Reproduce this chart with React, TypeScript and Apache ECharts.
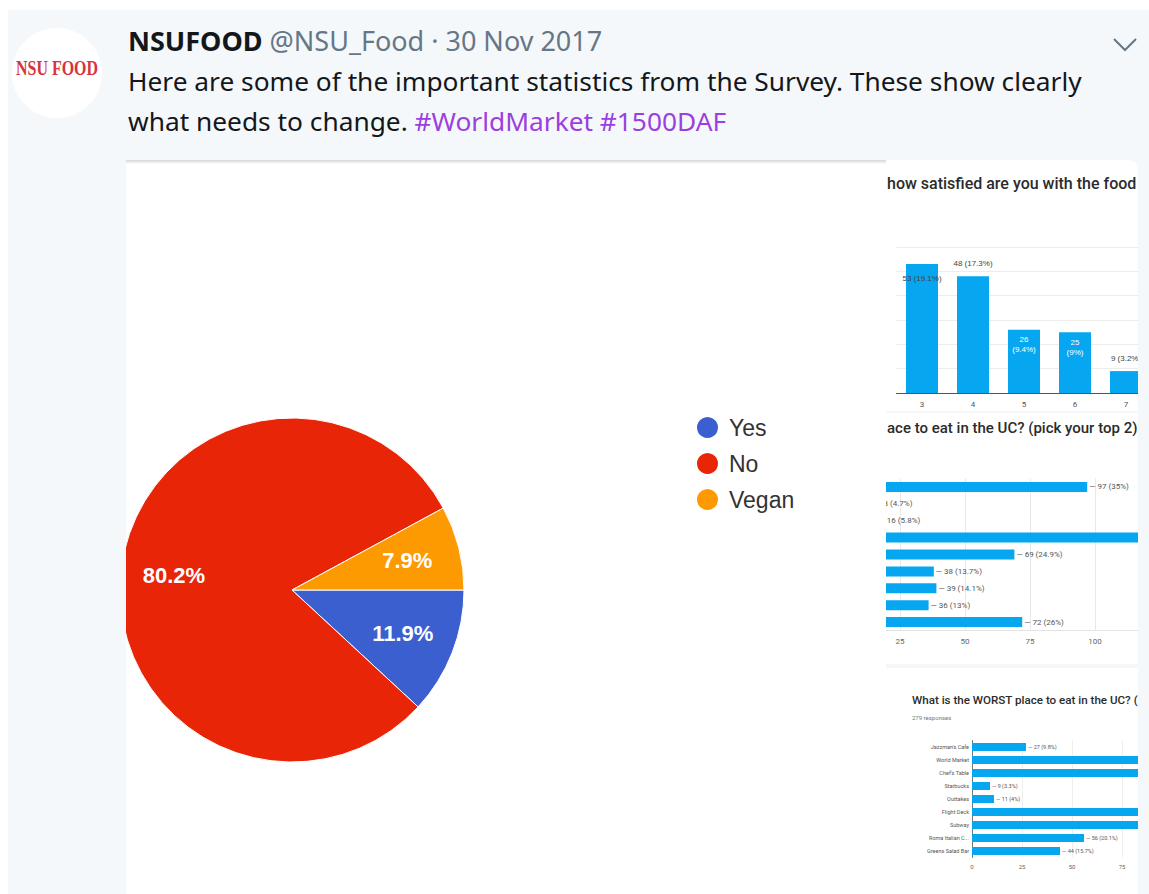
import React, { useEffect, useRef } from 'react';
import * as echarts from 'echarts';

// ---- data ----
const pieNames = ['Yes', 'No', 'Vegan'];
const pieValues = [11.9, 80.2, 7.9];
const pieColors = ['#3b5fcf', '#e82507', '#fd9a02'];

const satCategories = ['3', '4', '5', '6', '7'];
const satValues = [53, 48, 26, 25, 9];
const satPercents = ['19.1%', '17.3%', '9.4%', '9%', '3.2%'];

const places = ["Jazzman's Cafe", 'World Market', "Chef's Table", 'Starbucks', 'Outtakes', 'Flight Deck', 'Subway', 'Roma Italian C...', 'Greens Salad Bar'];
const bestValues = [97, 13, 16, 174, 69, 38, 39, 36, 72];
const bestPercents = ['35%', '4.7%', '5.8%', '62.8%', '24.9%', '13.7%', '14.1%', '13%', '26%'];
const worstValues = [27, 104, 98, 9, 11, 110, 101, 56, 44];
const worstPercents = ['9.8%', '37.3%', '35.1%', '3.3%', '4%', '39.4%', '36.2%', '20.1%', '15.7%'];

// bars whose ends (and labels) run past the cropped screenshot edge
const bestLabelHidden = [false, false, false, true, false, false, false, false, false];
const worstLabelHidden = [false, true, true, false, false, true, true, false, false];

const BG = '#f5f8fa';
const BAR = '#06a6f0';
const UI_FONT = "'Noto Sans', 'Liberation Sans', sans-serif";
const SMALL_FONT = 'Roboto, sans-serif';
const ARIAL = "'Liberation Sans', Arial, sans-serif";

export default function App() {
  const ref = useRef<HTMLDivElement>(null);
  useEffect(() => {
    if (!ref.current) return;
    const chart = echarts.init(ref.current, undefined, { renderer: 'svg' });

    const satLabel = (i: number) => {
      if (i === 2 || i === 3) {
        return { show: true, position: 'insideTop', distance: 5, color: '#ffffff', fontSize: 8, lineHeight: 10, formatter: `{c}\n(${satPercents[i]})` };
      }
      if (i === 0) {
        return { show: true, position: 'insideTop', distance: 10, color: '#444', fontSize: 8, formatter: `{c} (${satPercents[i]})` };
      }
      return { show: true, position: 'top', distance: 9, color: '#444', fontSize: 8, formatter: `{c} (${satPercents[i]})` };
    };

    const option: any = {
      animation: false,
      backgroundColor: '#ffffff',
      legend: {
        orient: 'vertical',
        left: 690,
        top: 410,
        icon: 'circle',
        itemWidth: 23,
        itemHeight: 23,
        itemGap: 11,
        textStyle: { fontSize: 23, color: '#333', fontFamily: ARIAL, padding: [0, 0, 0, 5] },
        data: pieNames.map((n, i) => ({ name: n, itemStyle: { color: pieColors[i] } })),
        selectedMode: false,
      },
      grid: [
        { left: 896.5, top: 247, width: 255, height: 146, outerBoundsMode: 'none', containLabel: false },
        { left: 835, top: 478.5, width: 325, height: 152, outerBoundsMode: 'none', containLabel: false },
        { left: 972, top: 740.5, width: 200, height: 117, outerBoundsMode: 'none', containLabel: false },
      ],
      xAxis: [
        {
          gridIndex: 0, type: 'category', data: satCategories,
          axisLine: { lineStyle: { color: '#555' } }, axisTick: { show: false },
          axisLabel: { fontSize: 8, color: '#555', margin: 7, fontFamily: SMALL_FONT },
        },
        {
          gridIndex: 1, type: 'value', min: 0, max: 125, interval: 25,
          axisLine: { show: true, lineStyle: { color: '#e3e3e3' } }, axisTick: { show: false },
          splitLine: { lineStyle: { color: '#e8e8e8' } },
          axisLabel: { fontSize: 8, color: '#666', margin: 7, fontFamily: SMALL_FONT, showMaxLabel: false },
        },
        {
          gridIndex: 2, type: 'value', min: 0, max: 100, interval: 25,
          axisLine: { show: false }, axisTick: { show: false },
          splitLine: { lineStyle: { color: '#eeeeee' } },
          axisLabel: { fontSize: 6, color: '#666', margin: 6, fontFamily: SMALL_FONT, showMaxLabel: false },
        },
      ],
      yAxis: [
        {
          gridIndex: 0, type: 'value', min: 0, max: 60, interval: 10,
          axisLabel: { show: false }, axisLine: { show: false }, axisTick: { show: false },
          splitLine: { lineStyle: { color: '#ececec' } },
        },
        {
          gridIndex: 1, type: 'category', data: places, inverse: true,
          axisLabel: { show: false }, axisTick: { show: false }, axisLine: { show: false },
        },
        {
          gridIndex: 2, type: 'category', data: places, inverse: true,
          axisLabel: { fontSize: 5.5, color: '#555', margin: 3, fontFamily: SMALL_FONT },
          axisTick: { show: false }, axisLine: { lineStyle: { color: '#777' } },
        },
      ],
      series: [
        {
          type: 'pie',
          center: [292, 590],
          radius: 172,
          startAngle: 0,
          clockwise: true,
          label: { show: false },
          labelLine: { show: false },
          itemStyle: { borderColor: '#ffffff', borderWidth: 1 },
          silent: true,
          data: pieNames.map((n, i) => ({ name: n, value: pieValues[i], itemStyle: { color: pieColors[i] } })),
        },
        {
          type: 'pie',
          center: [292, 590],
          radius: [60, 172],
          startAngle: 0,
          clockwise: true,
          silent: true,
          itemStyle: { color: 'rgba(0,0,0,0)' },
          label: {
            show: true, position: 'inside', color: '#ffffff', fontSize: 22, fontWeight: 'bold',
            fontFamily: ARIAL, formatter: '{c}%',
          },
          labelLine: { show: false },
          data: pieNames.map((n, i) => ({ name: n, value: pieValues[i] })),
        },
        {
          type: 'bar', xAxisIndex: 0, yAxisIndex: 0, barWidth: 32,
          itemStyle: { color: BAR },
          data: satValues.map((v, i) => ({ value: v, label: satLabel(i) })),
        },
        {
          type: 'bar', xAxisIndex: 1, yAxisIndex: 1, barWidth: 10,
          itemStyle: { color: BAR },
          label: {
            show: true, position: 'right', distance: 2, fontSize: 8, color: '#555', fontFamily: SMALL_FONT,
            formatter: (p: any) => `— ${p.value} (${bestPercents[p.dataIndex]})`,
          },
          data: bestValues.map((v, i) => (bestLabelHidden[i] ? { value: v, label: { show: false } } : v)),
        },
        {
          type: 'bar', xAxisIndex: 2, yAxisIndex: 2, barWidth: 8,
          itemStyle: { color: BAR },
          label: {
            show: true, position: 'right', distance: 2, fontSize: 5.5, color: '#555', fontFamily: SMALL_FONT,
            formatter: (p: any) => `— ${p.value} (${worstPercents[p.dataIndex]})`,
          },
          data: worstValues.map((v, i) => (worstLabelHidden[i] ? { value: v, label: { show: false } } : v)),
        },
      ],
      graphic: {
        elements: [
          // page background
          { type: 'rect', z: -5, silent: true, shape: { x: 8, y: 10, width: 1141, height: 884 }, style: { fill: BG } },
          // avatar
          { type: 'circle', z: -4, silent: true, shape: { cx: 57, cy: 73, r: 45 }, style: { fill: '#ffffff' } },
          {
            type: 'text', z: -3, silent: true, x: 57, y: 68, scaleX: 0.76,
            style: { text: 'NSU FOOD', fill: '#d7333d', fontSize: 21, fontWeight: 'bold', fontFamily: "'Liberation Serif', serif", align: 'center', verticalAlign: 'middle' },
          },
          // header
          {
            type: 'text', z: -3, silent: true, x: 128, y: 40,
            style: {
              text: '{b|NSUFOOD}{g| @NSU_Food · 30 Nov 2017}',
              verticalAlign: 'middle',
              rich: {
                b: { fontSize: 27, fontWeight: 'bold', fill: '#14171a', fontFamily: UI_FONT },
                g: { fontSize: 27, fill: '#657786', fontFamily: UI_FONT },
              },
            },
          },
          {
            type: 'text', z: -3, silent: true, x: 128, y: 81,
            style: { text: 'Here are some of the important statistics from the Survey. These show clearly', fontSize: 26.3, fill: '#14171a', fontFamily: UI_FONT, verticalAlign: 'middle' },
          },
          {
            type: 'text', z: -3, silent: true, x: 128, y: 121,
            style: {
              text: '{t|what needs to change. }{h|#WorldMarket #1500DAF}',
              verticalAlign: 'middle',
              rich: {
                t: { fontSize: 26.3, fill: '#14171a', fontFamily: UI_FONT },
                h: { fontSize: 26.3, fill: '#9b3fe0', fontFamily: UI_FONT },
              },
            },
          },
          { type: 'polyline', z: -3, silent: true, shape: { points: [[1114, 39], [1125, 50], [1136, 39]] }, style: { stroke: '#657786', lineWidth: 2, fill: 'none' } },
          // pie panel
          { type: 'rect', z: -4, silent: true, shape: { x: 126, y: 160, width: 760, height: 734 }, style: { fill: '#ffffff' } },
          {
            type: 'rect', z: -3, silent: true, shape: { x: 126, y: 160, width: 760, height: 4 },
            style: { fill: new echarts.graphic.LinearGradient(0, 0, 0, 1, [{ offset: 0, color: '#d4d6d8' }, { offset: 1, color: '#ffffff' }]) },
          },
          // right panels
          { type: 'rect', z: -4, silent: true, shape: { x: 886, y: 160, width: 252, height: 252, r: [0, 9, 0, 0] }, style: { fill: '#ffffff' } },
          { type: 'rect', z: -4, silent: true, shape: { x: 886, y: 412, width: 252, height: 252 }, style: { fill: '#ffffff' } },
          { type: 'line', z: -3, silent: true, shape: { x1: 886, y1: 412, x2: 1138, y2: 412 }, style: { stroke: '#eceff1', lineWidth: 1 } },
          { type: 'rect', z: -4, silent: true, shape: { x: 886, y: 664, width: 252, height: 4 }, style: { fill: '#f4f6f8' } },
          { type: 'rect', z: -4, silent: true, shape: { x: 886, y: 668, width: 252, height: 226 }, style: { fill: '#ffffff' } },
          // panel titles
          {
            type: 'text', z: -3, silent: true, x: 887, y: 183,
            style: { text: 'how satisfied are you with the food', fontSize: 16, fontWeight: 500, fill: '#2b2b2b', fontFamily: SMALL_FONT, verticalAlign: 'middle' },
          },
          {
            type: 'text', z: -3, silent: true, x: 887, y: 428,
            style: { text: 'ace to eat in the UC? (pick your top 2)', fontSize: 15, fontWeight: 500, fill: '#2b2b2b', fontFamily: SMALL_FONT, verticalAlign: 'middle' },
          },
          {
            type: 'text', z: -3, silent: true, x: 912, y: 700,
            style: { text: 'What is the WORST place to eat in the UC? (', fontSize: 11.6, fontWeight: 500, fill: '#2b2b2b', fontFamily: SMALL_FONT, verticalAlign: 'middle' },
          },
          {
            type: 'text', z: -3, silent: true, x: 912, y: 717,
            style: { text: '279 responses', fontSize: 6, fill: '#777', fontFamily: SMALL_FONT, verticalAlign: 'middle' },
          },
          // masks (clip overflow of screenshot images)
          { type: 'rect', z: 100, silent: true, shape: { x: 100, y: 400, width: 26, height: 380 }, style: { fill: BG } },
          { type: 'rect', z: 100, silent: true, shape: { x: 805, y: 465, width: 81, height: 195 }, style: { fill: '#ffffff' } },
          { type: 'rect', z: 100, silent: true, shape: { x: 1138, y: 150, width: 11, height: 744 }, style: { fill: BG } },
        ],
      },
    };

    chart.setOption(option);
    return () => chart.dispose();
  }, []);

  return <div ref={ref} style={{ position: 'absolute', left: 0, top: 0, width: 1149, height: 894 }} />;
}
